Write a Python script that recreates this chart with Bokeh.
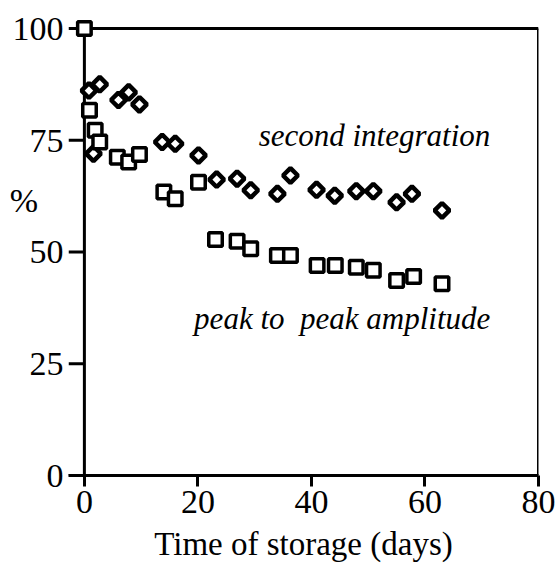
import math
from bokeh.plotting import figure
from bokeh.models import Range1d, FixedTicker, Label
from bokeh.embed import file_html
from bokeh.resources import INLINE

# peak to peak amplitude (squares)
p2p_days = [0, 0.9, 1.9, 2.7, 5.8, 7.8, 9.7, 14.0, 16.0, 20.1, 23.1, 26.9, 29.3,
            34.0, 36.3, 41.0, 44.2, 47.9, 50.9, 55.0, 58.0, 63.0]
p2p_pct = [100, 81.7, 77.2, 74.6, 71.2, 70.1, 71.8, 63.4, 61.9, 65.6, 52.8, 52.4, 50.7,
           49.2, 49.2, 47.0, 47.0, 46.6, 45.9, 43.6, 44.5, 42.9]

# second integration (diamonds)
int_days = [0.8, 2.7, 1.6, 6.0, 7.8, 9.7, 13.7, 16.0, 20.1, 23.3, 26.9, 29.3,
            34.0, 36.3, 40.9, 44.1, 47.9, 50.9, 55.0, 57.7, 63.0]
int_pct = [86.1, 87.5, 72.0, 84.0, 85.7, 83.0, 74.6, 74.2, 71.6, 66.2, 66.4, 63.8,
           63.0, 67.1, 63.9, 62.6, 63.6, 63.6, 61.1, 63.0, 59.3]

x_ticks = [0, 20, 40, 60, 80]
y_ticks = [0, 25, 50, 75, 100]
y_unit_pos = 61.5          # where the "%" unit label sits on the y axis
y_unit_text = "%\u00a0\u00a0\u00a0"

FONT = "Liberation Serif"

x_range = Range1d(-2.8, 80)
y_range = Range1d(0, 102)

# the frame is a little wider/taller than 0-80 / 0-100 so the corner marker is not cut;
# the visible box and the y ticks are drawn at the data limits
p = figure(width=556, height=569, output_backend="svg", toolbar_location=None,
           x_range=x_range, y_range=y_range,
           min_border_left=68, min_border_right=18, min_border_top=19, min_border_bottom=94)
p.grid.visible = False
p.background_fill_color = "white"
p.border_fill_color = "white"
p.outline_line_color = None

for ax in (p.xaxis[0], p.yaxis[0]):
    ax.axis_line_width = 3
    ax.axis_line_color = "black"
    ax.major_tick_line_width = 3
    ax.major_tick_line_color = "black"
    ax.minor_tick_line_color = None
    ax.major_label_text_font = FONT
    ax.major_label_text_font_size = "34px"
    ax.major_label_text_color = "black"

p.xaxis[0].ticker = FixedTicker(ticks=x_ticks)
p.xaxis[0].major_tick_in = 0
p.xaxis[0].major_tick_out = 11
p.xaxis[0].major_label_standoff = 4

p.yaxis[0].ticker = FixedTicker(ticks=y_ticks + [y_unit_pos])
p.yaxis[0].major_label_overrides = {y_unit_pos: y_unit_text}
p.yaxis[0].axis_line_color = None
p.yaxis[0].major_tick_line_color = None
p.yaxis[0].major_tick_in = 0
p.yaxis[0].major_tick_out = 0
p.yaxis[0].major_label_standoff = 5

p.xaxis[0].axis_label = "Time of storage (days)"
p.xaxis[0].axis_label_text_font = FONT
p.xaxis[0].axis_label_text_color = "black"
p.xaxis[0].axis_label_text_font_style = "normal"
p.xaxis[0].axis_label_text_font_size = "33px"
p.xaxis[0].axis_label_standoff = 10

# y tick marks (from the frame edge to the y axis)
p.segment(x0=[x_range.start] * len(y_ticks), y0=y_ticks,
          x1=[x_ticks[0]] * len(y_ticks), y1=y_ticks,
          line_color="black", line_width=3)

# left, top and right sides of the box
p.segment(x0=[x_ticks[0], x_ticks[0], x_ticks[-1]],
          y0=[y_ticks[0], y_ticks[-1], y_ticks[0]],
          x1=[x_ticks[0], x_ticks[-1], x_ticks[-1]],
          y1=[y_ticks[-1], y_ticks[-1], y_ticks[-1]],
          line_color="black", line_width=3)

p.scatter(int_days, int_pct, marker="square", angle=math.pi / 4, size=10.5,
          fill_color="white", line_color="black", line_width=4.5)
p.scatter(p2p_days, p2p_pct, marker="square", size=13.5,
          fill_color="white", line_color="black", line_width=3.5)

p.add_layout(Label(x=71.5, y=76.1, text="second integration", text_font=FONT,
                   text_font_style="italic", text_font_size="31px", text_color="black",
                   text_align="right", text_baseline="alphabetic"))
p.add_layout(Label(x=71.5, y=35.1, text="peak to\u00a0 peak amplitude", text_font=FONT,
                   text_font_style="italic", text_font_size="31px", text_color="black",
                   text_align="right", text_baseline="alphabetic"))

open("out.html", "w").write(file_html(p, INLINE))
